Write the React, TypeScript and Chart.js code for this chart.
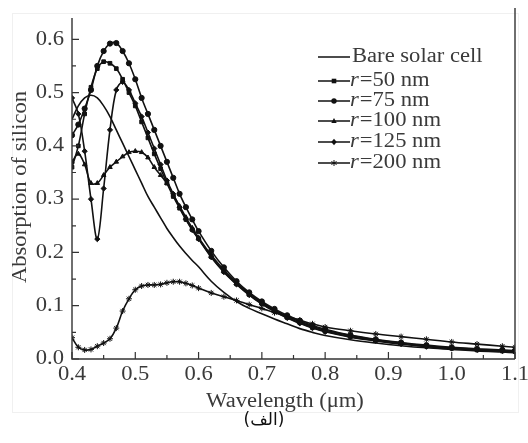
import React, { useEffect, useRef } from 'react';
import { Chart, registerables } from 'chart.js';

Chart.register(...registerables);

// ---- data ----
const wavelength = [
  0.40, 0.41, 0.42, 0.43, 0.44, 0.45, 0.46, 0.47, 0.48, 0.49, 0.50, 0.51, 0.52, 0.53, 0.54, 0.55, 0.56, 0.57, 0.58, 0.59, 0.60,
  0.62, 0.64, 0.66, 0.68, 0.70, 0.72, 0.74, 0.76, 0.78, 0.80,
  0.84, 0.88, 0.92, 0.96, 1.00, 1.04, 1.08, 1.10,
];
const bareCell = [
  0.45, 0.475, 0.49, 0.495, 0.49, 0.475, 0.455, 0.43, 0.405, 0.38, 0.355, 0.33, 0.305, 0.285, 0.265, 0.245, 0.228, 0.212, 0.198, 0.185, 0.173,
  0.146, 0.125, 0.108, 0.095, 0.085, 0.075, 0.066, 0.057, 0.05, 0.044,
  0.036, 0.03, 0.025, 0.021, 0.018, 0.015, 0.013, 0.012,
];
const r50 = [
  0.36, 0.40, 0.46, 0.51, 0.545, 0.558, 0.555, 0.545, 0.525, 0.5, 0.475, 0.445, 0.415, 0.385, 0.357, 0.33, 0.305, 0.283, 0.262, 0.243, 0.226,
  0.192, 0.164, 0.141, 0.121, 0.104, 0.09, 0.078, 0.068, 0.059, 0.052,
  0.042, 0.035, 0.029, 0.024, 0.02, 0.017, 0.015, 0.014,
];
const r75 = [
  0.42, 0.44, 0.47, 0.505, 0.55, 0.578, 0.592, 0.593, 0.578, 0.555, 0.525, 0.49, 0.46, 0.43, 0.40, 0.37, 0.34, 0.31, 0.285, 0.262, 0.24,
  0.203, 0.172, 0.146, 0.125, 0.108, 0.094, 0.082, 0.072, 0.063, 0.056,
  0.045, 0.037, 0.031, 0.026, 0.022, 0.019, 0.017, 0.016,
];
const r100 = [
  0.37, 0.385, 0.365, 0.33, 0.33, 0.345, 0.36, 0.37, 0.38, 0.388, 0.39, 0.388, 0.378, 0.36, 0.345, 0.33, 0.308, 0.287, 0.266, 0.246, 0.228,
  0.195, 0.167, 0.143, 0.123, 0.106, 0.092, 0.08, 0.07, 0.061, 0.054,
  0.044, 0.036, 0.03, 0.025, 0.021, 0.018, 0.016, 0.015,
];
const r125 = [
  0.49, 0.46, 0.39, 0.30, 0.225, 0.32, 0.43, 0.505, 0.52, 0.505, 0.48, 0.455, 0.425, 0.395, 0.365, 0.335, 0.31, 0.285, 0.262, 0.242, 0.225,
  0.191, 0.163, 0.14, 0.12, 0.103, 0.089, 0.077, 0.067, 0.058, 0.051,
  0.041, 0.034, 0.028, 0.023, 0.02, 0.017, 0.015, 0.014,
];
const r200 = [
  0.04, 0.022, 0.017, 0.018, 0.024, 0.03, 0.038, 0.058, 0.09, 0.113, 0.13, 0.137, 0.139, 0.139, 0.14, 0.143, 0.145, 0.145, 0.142, 0.138, 0.133,
  0.124, 0.117, 0.11, 0.102, 0.095, 0.087, 0.08, 0.073, 0.066, 0.06,
  0.053, 0.047, 0.042, 0.037, 0.032, 0.028, 0.024, 0.022,
];

const seriesNames = ['Bare solar cell', '=50 nm', '=75 nm', '=100 nm', '=125 nm', '=200 nm'];
const seriesValues = [bareCell, r50, r75, r100, r125, r200];
const seriesMarkers = ['none', 'rect', 'circle', 'triangle', 'rectRot', 'star'];

const xTicks = [0.4, 0.5, 0.6, 0.7, 0.8, 0.9, 1.0, 1.1];
const xMinorTicks = [0.45, 0.55, 0.65, 0.75, 0.85, 0.95, 1.05];
const yTicks = [0, 0.1, 0.2, 0.3, 0.4, 0.5, 0.6];
const yMinorTicks = [0.05, 0.15, 0.25, 0.35, 0.45, 0.55];

const xTitle = 'Wavelength (μm)';
const yTitle = 'Absorption of silicon';
const caption = '(الف)';

const SERIF = '"Liberation Serif", "DejaVu Serif", serif';
const INK = '#111';
const TEXT = '#3a3a3a';
const STRETCH = 1.13;

function stretchedText(ctx: CanvasRenderingContext2D, text: string, x: number, y: number, align: CanvasTextAlign, rotate = 0) {
  ctx.save();
  ctx.translate(x, y);
  if (rotate) ctx.rotate(rotate);
  ctx.scale(STRETCH, 1);
  ctx.textAlign = align;
  ctx.fillText(text, 0, 0);
  ctx.restore();
}

function drawMarker(ctx: CanvasRenderingContext2D, style: string, x: number, y: number) {
  ctx.save();
  ctx.fillStyle = INK;
  ctx.strokeStyle = INK;
  ctx.lineWidth = 1;
  ctx.beginPath();
  const r = 2.7;
  if (style === 'rect') {
    ctx.rect(x - r * 0.85, y - r * 0.85, r * 1.7, r * 1.7);
    ctx.fill();
  } else if (style === 'circle') {
    ctx.arc(x, y, r, 0, Math.PI * 2);
    ctx.fill();
  } else if (style === 'triangle') {
    ctx.moveTo(x, y - r * 1.1);
    ctx.lineTo(x + r, y + r * 0.7);
    ctx.lineTo(x - r, y + r * 0.7);
    ctx.closePath();
    ctx.fill();
  } else if (style === 'rectRot') {
    ctx.moveTo(x, y - r * 1.2);
    ctx.lineTo(x + r, y);
    ctx.lineTo(x, y + r * 1.2);
    ctx.lineTo(x - r, y);
    ctx.closePath();
    ctx.fill();
  } else if (style === 'star') {
    for (let i = 0; i < 3; i++) {
      const a = (Math.PI / 3) * i + Math.PI / 2;
      ctx.moveTo(x + Math.cos(a) * 3, y - Math.sin(a) * 3);
      ctx.lineTo(x - Math.cos(a) * 3, y + Math.sin(a) * 3);
    }
    ctx.stroke();
  }
  ctx.restore();
}

const decorPlugin = {
  id: 'decor',
  beforeDraw(chart: any) {
    const ctx = chart.ctx as CanvasRenderingContext2D;
    ctx.save();
    ctx.fillStyle = '#fff';
    ctx.fillRect(0, 0, chart.width, chart.height);
    ctx.strokeStyle = '#f0f0f0';
    ctx.lineWidth = 1;
    ctx.strokeRect(12.5, 13.5, 506, 399);
    ctx.restore();
  },
  afterDraw(chart: any) {
    const ctx = chart.ctx as CanvasRenderingContext2D;
    const { left, right, top, bottom } = chart.chartArea;
    const xs = chart.scales.x;
    const ys = chart.scales.y;
    ctx.save();
    ctx.strokeStyle = '#333';
    ctx.lineWidth = 1.4;
    ctx.beginPath();
    ctx.moveTo(left, top);
    ctx.lineTo(left, bottom);
    ctx.lineTo(right, bottom);
    ctx.moveTo(right, 8);
    ctx.lineTo(right, bottom);
    ctx.stroke();
    ctx.lineWidth = 1.2;
    ctx.beginPath();
    xTicks.forEach((v) => {
      const p = xs.getPixelForValue(v);
      ctx.moveTo(p, bottom);
      ctx.lineTo(p, bottom - 7);
    });
    xMinorTicks.forEach((v) => {
      const p = xs.getPixelForValue(v);
      ctx.moveTo(p, bottom);
      ctx.lineTo(p, bottom - 4);
    });
    yTicks.forEach((v) => {
      const p = ys.getPixelForValue(v);
      ctx.moveTo(left, p);
      ctx.lineTo(left + 7, p);
    });
    yMinorTicks.forEach((v) => {
      const p = ys.getPixelForValue(v);
      ctx.moveTo(left, p);
      ctx.lineTo(left + 4, p);
    });
    ctx.stroke();

    // tick labels
    ctx.fillStyle = TEXT;
    ctx.font = `20px ${SERIF}`;
    ctx.textBaseline = 'middle';
    xTicks.forEach((v) => {
      stretchedText(ctx, v.toFixed(1), xs.getPixelForValue(v), 375, 'center');
    });
    yTicks.forEach((v) => {
      stretchedText(ctx, v.toFixed(1), left - 8, ys.getPixelForValue(v), 'right');
    });

    // axis titles
    stretchedText(ctx, xTitle, 285, 402, 'center');
    stretchedText(ctx, yTitle, 21, 187, 'center', -Math.PI / 2);

    // caption
    ctx.fillStyle = '#111';
    ctx.font = `17px "DejaVu Sans", "Noto Sans", sans-serif`;
    ctx.textAlign = 'center';
    ctx.fillText(caption, 264, 421);

    // legend
    const rowsY = [57, 81, 101, 121, 142, 163];
    seriesNames.forEach((name, i) => {
      const y = rowsY[i];
      ctx.strokeStyle = INK;
      ctx.lineWidth = 1.5;
      ctx.beginPath();
      ctx.moveTo(318, y);
      ctx.lineTo(350, y);
      ctx.stroke();
      if (seriesMarkers[i] !== 'none') drawMarker(ctx, seriesMarkers[i], 334, y);
      ctx.fillStyle = TEXT;
      if (i === 0) {
        ctx.font = `20px ${SERIF}`;
        stretchedText(ctx, name, 352, y, 'left');
      } else {
        ctx.font = `italic 20px ${SERIF}`;
        stretchedText(ctx, 'r', 350, y, 'left');
        const w = ctx.measureText('r').width * STRETCH;
        ctx.font = `20px ${SERIF}`;
        stretchedText(ctx, name, 350 + w + 1, y, 'left');
      }
    });
    ctx.restore();
  },
};

export default function App() {
  const canvasRef = useRef<HTMLCanvasElement | null>(null);

  useEffect(() => {
    const canvas = canvasRef.current;
    if (!canvas) return;
    const datasets = seriesValues.map((vals, i) => ({
      label: seriesNames[i],
      data: wavelength.map((w, j) => ({ x: w, y: vals[j] })),
      borderColor: INK,
      backgroundColor: INK,
      borderWidth: 1.6,
      pointStyle: seriesMarkers[i] === 'none' ? false : (seriesMarkers[i] as any),
      pointRadius: seriesMarkers[i] === 'none' ? 0 : seriesMarkers[i] === 'star' ? 3 : 2.6,
      pointBorderWidth: 1,
      pointBorderColor: INK,
      pointBackgroundColor: INK,
      tension: 0.35,
      fill: false,
    }));
    const chart = new Chart(canvas, {
      type: 'line',
      data: { datasets },
      options: {
        responsive: false,
        animation: false,
        maintainAspectRatio: false,
        layout: { padding: { left: 0, right: 13, top: 18, bottom: 0 } },
        plugins: { legend: { display: false }, tooltip: { enabled: false }, title: { display: false } },
        scales: {
          x: {
            type: 'linear',
            min: 0.4,
            max: 1.1,
            grid: { display: false, drawTicks: false },
            border: { display: false },
            afterFit: (s: any) => { s.height = 84; },
            afterBuildTicks: (s: any) => { s.ticks = xTicks.map((v) => ({ value: v })); },
            ticks: { display: false },
          },
          y: {
            type: 'linear',
            min: 0,
            max: 0.64,
            grid: { display: false, drawTicks: false },
            border: { display: false },
            afterFit: (s: any) => { s.width = 72; },
            afterBuildTicks: (s: any) => { s.ticks = yTicks.map((v) => ({ value: v })); },
            ticks: { display: false },
          },
        },
      },
      plugins: [decorPlugin],
    });
    return () => chart.destroy();
  }, []);

  return (
    <div style={{ position: 'absolute', left: 0, top: 0, width: 528, height: 443, background: '#fff' }}>
      <canvas ref={canvasRef} width={528} height={443} style={{ width: 528, height: 443, display: 'block' }} />
    </div>
  );
}
